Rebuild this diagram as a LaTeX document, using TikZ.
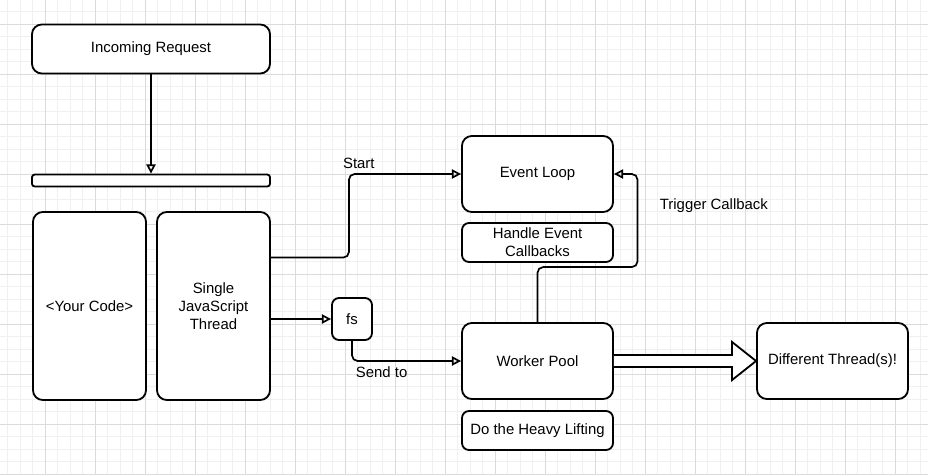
\documentclass[tikz,border=0pt]{standalone}
\usepackage{fontspec}
\setmainfont{Liberation Sans}
\usepackage{tikz}
\usetikzlibrary{calc,positioning,arrows.meta}

\tikzset{
  blk/.style={draw,line width=1.3pt,rounded corners=7pt,fill=white,align=center,inner sep=2pt},
  arr/.style={-{Triangle[open,length=6.5pt,width=6.5pt]},line width=1.2pt},
  fat/.style={line width=1.3pt,fill=white,line join=miter},
  minorline/.style={black!6,line width=0.6pt},
  majorline/.style={black!14,line width=0.6pt}
}

\begin{document}
\begin{tikzpicture}[x=0.025cm,y=-0.025cm,font=\fontsize{10.6}{12.8}\selectfont]
                      \useasboundingbox (0,0) rectangle (928,475);
                      \fill[white] (0,0) rectangle (928,475);
                      \foreach \x in {7.5,20,...,925} \draw[minorline] (\x,0) -- (\x,475);
                      \foreach \y in {-1,11.5,...,475} \draw[minorline] (0,\y) -- (928,\y);
                      \foreach \x in {45,95,...,925} \draw[majorline] (\x,0) -- (\x,475);
                      \foreach \y in {24,74,...,475} \draw[majorline] (0,\y) -- (928,\y);
                      \node[blk,minimum width=5.95cm,minimum height=1.225cm](req)at(151,49){Incoming Request};
                      \node[blk,rounded corners=2pt,minimum width=5.95cm,minimum height=0.3cm,inner sep=0pt](bar)at(151,180.5){};
                      \node[blk,minimum width=2.825cm,minimum height=4.7cm](code)at(89.5,306){<Your Code>};
                      \node[blk,minimum width=2.825cm,minimum height=4.7cm](thread)at(213.5,306){Single\\JavaScript\\Thread};
                      \node[blk,minimum width=3.775cm,minimum height=1.9cm](loop)at(537.5,174){Event Loop};
                      \node[blk,rounded corners=5pt,minimum width=3.775cm,minimum height=0.975cm,inner sep=1pt](handle)at(537.5,242.5){Handle Event\\Callbacks};
                      \node[blk,rounded corners=5pt,minimum width=1cm,minimum height=1.05cm](fs)at(352,319){fs};
                      \node[blk,minimum width=3.775cm,minimum height=1.9cm](pool)at(537.5,361){Worker Pool};
                      \node[blk,rounded corners=5pt,minimum width=3.775cm,minimum height=0.975cm](heavy)at(537.5,430.5){Do the Heavy Lifting};
                      \node[blk,minimum width=3.775cm,minimum height=1.9cm](diff)at(832.5,361){Different Thread(s)!};
                      \coordinate (t1) at ($(thread.north east)!0.245!(thread.south east)$);
                      \draw[arr](req.south)--(bar.north);
                      \draw[arr,rounded corners=4pt](t1)--++(78,0)|-(loop.west) node[pos=0.544,above]{Start};
                      \draw[arr](thread.east|-fs.west)--(fs.west);
                      \draw[arr,rounded corners=4pt](fs.south)|-(pool.west) node[pos=0.636,below]{Send to};
                      \draw[arr,rounded corners=4pt](pool.north)--++(0,-55)--++(100,0)|-(loop.east) node[pos=0.33,right=12pt]{Trigger Callback};
                      \draw[fat]($(pool.east)+(0,-6)$)--($(diff.west)+(-24,-6)$)--($(diff.west)+(-24,-19)$)--(diff.west)--($(diff.west)+(-24,19)$)--($(diff.west)+(-24,6)$)--($(pool.east)+(0,6)$);
                  \end{tikzpicture}
\end{document}
